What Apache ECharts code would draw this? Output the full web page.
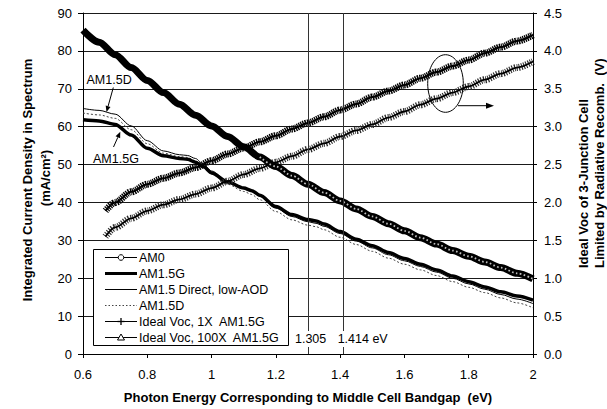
<!DOCTYPE html>
<html>
<head>
<meta charset="utf-8">
<script src="https://cdn.jsdelivr.net/npm/echarts@6/dist/echarts.min.js"></script>
<style>
  html, body { margin: 0; padding: 0; background: #fff; }
  #chart { width: 607px; height: 409px; }
</style>
</head>
<body>
<div id="chart"></div>
<script>
// Photon energy grids (eV)
const energyAM0 = [0.60,0.65,0.70,0.75,0.80,0.85,0.90,0.95,1.00,1.05,1.10,1.15,1.20,1.25,1.30,1.35,1.40,1.45,1.50,1.55,1.60,1.65,1.70,1.75,1.80,1.85,1.90,1.95,2.00];
const energySolar = [0.60,0.65,0.70,0.75,0.80,0.85,0.90,0.925,0.95,0.975,1.00,1.05,1.10,1.125,1.15,1.20,1.25,1.30,1.325,1.35,1.40,1.45,1.50,1.55,1.60,1.65,1.70,1.75,1.80,1.85,1.90,1.95,2.00];
const energyVoc = [0.67,0.70,0.75,0.80,0.85,0.90,0.95,1.00,1.05,1.10,1.15,1.20,1.25,1.30,1.35,1.40,1.45,1.50,1.55,1.60,1.65,1.70,1.75,1.80,1.85,1.90,1.95,2.00];

// Integrated current density (mA/cm2)
const am0 = [85.5,82.3,79.0,75.6,72.2,69.0,65.9,63.0,60.2,57.4,54.7,52.0,49.5,47.1,44.8,42.6,40.4,38.3,36.3,34.4,32.5,30.7,29.0,27.3,25.8,24.3,22.8,21.3,19.8];
const am15g = [61.8,61.5,60.6,57.8,54.3,52.3,51.6,51.4,50.6,49.4,47.8,45.4,43.8,43.1,41.9,38.9,36.8,35.5,35.1,34.3,32.3,30.3,28.6,26.8,25.2,23.7,22.2,20.6,19.1,17.7,16.4,15.3,14.2];
const am15DirectLowAod = [64.8,64.3,63.3,60.2,56.3,53.6,52.6,52.4,51.6,50.0,48.3,45.6,43.8,43.0,41.6,38.5,36.3,34.9,34.5,33.7,31.8,29.8,28.0,26.2,24.6,23.1,21.6,20.0,18.5,17.1,15.7,14.5,13.3];
const am15d = [63.6,63.1,62.2,59.2,55.5,53.0,52.1,51.9,51.0,49.3,47.5,44.8,42.9,42.1,40.7,37.6,35.4,34.0,33.6,32.8,30.8,28.9,27.1,25.3,23.7,22.2,20.7,19.1,17.6,16.2,14.8,13.5,12.2];

// Ideal Voc of the 3-junction cell (V)
const voc1x = [1.55,1.67,1.79,1.89,1.97,2.04,2.11,2.19,2.28,2.37,2.45,2.53,2.61,2.70,2.78,2.87,2.95,3.03,3.12,3.20,3.29,3.37,3.45,3.53,3.62,3.70,3.78,3.86];
const voc100x = [1.89,2.00,2.14,2.24,2.32,2.39,2.46,2.55,2.64,2.72,2.80,2.88,2.97,3.05,3.13,3.22,3.30,3.39,3.47,3.55,3.64,3.72,3.80,3.88,3.97,4.05,4.13,4.21];

// Middle-cell bandgaps marked with vertical lines (eV)
const markEnergies = [1.305, 1.414];

const seriesNames = ['AM0', 'AM1.5G', 'AM1.5 Direct, low-AOD', 'AM1.5D', 'Ideal Voc, 1X  AM1.5G', 'Ideal Voc, 100X  AM1.5G'];

const FONT = '"Liberation Sans", Arial, Helvetica, sans-serif';
const pairs = (xs, ys) => xs.map((x, i) => [x, ys[i]]);

const chart = echarts.init(document.getElementById('chart'), null, { renderer: 'svg' });

const tickLabel = { color: '#000', fontSize: 13, fontFamily: FONT };
const curve = { symbol: 'none', smooth: 0.3, smoothMonotone: 'x' };

chart.setOption({
  animation: false,
  backgroundColor: '#fff',
  grid: { left: 83, right: 74, top: 13, bottom: 53 },
  xAxis: {
    type: 'value', min: 0.6, max: 2, interval: 0.2,
    axisLine: { show: true, lineStyle: { color: '#000', width: 1 } },
    axisTick: { show: true, length: 4, lineStyle: { color: '#000' } },
    axisLabel: Object.assign({ margin: 14, formatter: v => String(+v.toFixed(1)) }, tickLabel),
    splitLine: { show: false },
    name: 'Photon Energy Corresponding to Middle Cell Bandgap  (eV)',
    nameLocation: 'middle', nameGap: 37,
    nameTextStyle: { color: '#000', fontSize: 13, fontWeight: 'bold', fontFamily: FONT }
  },
  yAxis: [
    {
      type: 'value', min: 0, max: 90, interval: 10, position: 'left',
      axisLine: { show: true, lineStyle: { color: '#000', width: 1 } },
      axisTick: { show: true, length: 5, lineStyle: { color: '#000' } },
      axisLabel: Object.assign({ margin: 11 }, tickLabel),
      splitLine: { show: true, lineStyle: { color: '#1a1a1a', width: 1 } }
    },
    {
      type: 'value', min: 0, max: 4.5, interval: 0.5, position: 'right',
      axisLine: { show: true, lineStyle: { color: '#000', width: 1 } },
      axisTick: { show: true, length: 4, lineStyle: { color: '#000' } },
      axisLabel: Object.assign({ margin: 11, formatter: v => v.toFixed(1) }, tickLabel),
      splitLine: { show: false }
    }
  ],
  series: [
    Object.assign({
      name: seriesNames[3], type: 'line', data: pairs(energySolar, am15d),
      lineStyle: { color: '#444', width: 1, type: [2, 2] }
    }, curve),
    Object.assign({
      name: seriesNames[2], type: 'line', data: pairs(energySolar, am15DirectLowAod),
      lineStyle: { color: '#000', width: 1 },
      markLine: {
        silent: true, symbol: ['none', 'none'], label: { show: false },
        lineStyle: { color: '#333', width: 1, type: 'solid' },
        data: markEnergies.map(e => ({ xAxis: e }))
      }
    }, curve),
    Object.assign({
      name: seriesNames[1], type: 'line', data: pairs(energySolar, am15g),
      lineStyle: { color: '#000', width: 3.5 }
    }, curve),
    // Ideal Voc, 1X: hatched band of "+" marks around a thin line
    Object.assign({
      name: seriesNames[4], type: 'line', yAxisIndex: 1, data: pairs(energyVoc, voc1x),
      lineStyle: { color: '#2a2a2a', width: 7, type: [1.1, 1.3], cap: 'butt' }
    }, curve),
    Object.assign({
      name: seriesNames[4] + ' line', type: 'line', yAxisIndex: 1, data: pairs(energyVoc, voc1x),
      lineStyle: { color: '#000', width: 1.8 }
    }, curve),
    // Ideal Voc, 100X: dense triangle band
    Object.assign({
      name: seriesNames[5], type: 'line', yAxisIndex: 1, data: pairs(energyVoc, voc100x),
      lineStyle: { color: '#000', width: 7, type: [1.3, 0.8], cap: 'butt' }
    }, curve),
    Object.assign({
      name: seriesNames[5] + ' line', type: 'line', yAxisIndex: 1, data: pairs(energyVoc, voc100x),
      lineStyle: { color: '#000', width: 2 }
    }, curve),
    // AM0: chain of open circles, merging into a solid band where they crowd
    Object.assign({
      name: seriesNames[0], type: 'line', data: pairs(energyAM0, am0),
      lineStyle: { color: '#000', width: 7 }
    }, curve),
    Object.assign({
      name: seriesNames[0] + ' rings', type: 'line',
      data: pairs(energyAM0, am0).filter(p => p[0] >= 1.15),
      lineStyle: { color: '#fff', width: 1.8, type: [1.6, 2.4], cap: 'butt', opacity: 0.75 }
    }, curve)
  ]
});

// ---- annotations, legend box and axis titles ----
function arrow(x1, y1, x2, y2, len, half) {
  len = len || 6; half = half || 2.6;
  const a = Math.atan2(y2 - y1, x2 - x1);
  const bx = x2 - len * Math.cos(a), by = y2 - len * Math.sin(a);
  const px = -Math.sin(a) * half, py = Math.cos(a) * half;
  return [
    { type: 'line', z: 100, shape: { x1: x1, y1: y1, x2: bx, y2: by }, style: { stroke: '#000', lineWidth: 1 } },
    { type: 'polygon', z: 100, shape: { points: [[x2, y2], [bx + px, by + py], [bx - px, by - py]] }, style: { fill: '#000' } }
  ];
}
function text(str, x, y, opts) {
  return Object.assign({
    type: 'text', z: 101, x: x, y: y,
    style: Object.assign({ text: str, fill: '#000', font: '12.5px ' + FONT, textAlign: 'left', textVerticalAlign: 'middle' }, (opts && opts.style) || {})
  }, opts && opts.rotation ? { rotation: opts.rotation } : {});
}

const g = [];

// legend box
const lx0 = 105, lx1 = 137, lmid = 121, ltext = 139, ly0 = 257.5, lstep = 16;
g.push({ type: 'rect', z: 99, shape: { x: 93.5, y: 249.5, width: 195, height: 96 }, style: { fill: '#fff', stroke: '#000', lineWidth: 1 } });
seriesNames.forEach((name, i) => {
  const y = ly0 + i * lstep;
  let ls = { stroke: '#000', lineWidth: 1 };
  if (i === 1) ls.lineWidth = 3;
  if (i === 3) { ls.stroke = '#444'; ls.lineDash = [1.5, 2]; }
  g.push({ type: 'line', z: 100, shape: { x1: lx0, y1: y, x2: lx1, y2: y }, style: ls });
  if (i === 0) g.push({ type: 'circle', z: 101, shape: { cx: lmid, cy: y, r: 2.8 }, style: { fill: '#fff', stroke: '#000', lineWidth: 1 } });
  if (i === 4) {
    g.push({ type: 'line', z: 101, shape: { x1: lmid - 3.5, y1: y, x2: lmid + 3.5, y2: y }, style: { stroke: '#000', lineWidth: 1.3 } });
    g.push({ type: 'line', z: 101, shape: { x1: lmid, y1: y - 3.5, x2: lmid, y2: y + 3.5 }, style: { stroke: '#000', lineWidth: 1.3 } });
  }
  if (i === 5) g.push({ type: 'polygon', z: 101, shape: { points: [[lmid, y - 3.5], [lmid - 3.5, y + 2.5], [lmid + 3.5, y + 2.5]] }, style: { fill: '#fff', stroke: '#000', lineWidth: 1 } });
  g.push(text(name, ltext, y));
});

// spectrum labels with arrows
g.push(text('AM1.5D', 86.5, 80));
g.push(...arrow(113.3, 87.5, 106.5, 112, 6, 2.5));
g.push(text('AM1.5G', 93, 159));
g.push(...arrow(113.5, 147, 120.3, 131.8, 6, 2.5));

// ellipse around the Voc curves pointing to the right axis
g.push({ type: 'ellipse', z: 100, shape: { cx: 445.5, cy: 83.5, rx: 17.8, ry: 28.8 }, style: { fill: 'none', stroke: '#000', lineWidth: 1 } });
g.push(...arrow(458, 105.7, 494, 105.7, 8, 3));

// bandgap labels on the vertical lines
const xa = chart.convertToPixel({ xAxisIndex: 0 }, markEnergies[0]);
const xb = chart.convertToPixel({ xAxisIndex: 0 }, markEnergies[1]);
g.push({ type: 'rect', z: 99, shape: { x: xa - 15, y: 331, width: (xb - 7 + 50) - (xa - 15), height: 16 }, style: { fill: '#fff' } });
g.push(text(markEnergies[0].toFixed(3), xa + 1, 339, { style: { textAlign: 'center' } }));
g.push(text(markEnergies[1].toFixed(3) + ' eV', xb - 7, 339));

// axis titles
const titleFont = 'bold 13px ' + FONT;
g.push(text('Integrated Current Density in Spectrum', 27, 180, { rotation: Math.PI / 2, style: { font: titleFont, textAlign: 'center' } }));
g.push(text('(mA/cm²)', 45, 178, { rotation: Math.PI / 2, style: { font: titleFont, textAlign: 'center' } }));
g.push(text('Ideal Voc of 3-Junction Cell', 583, 268, { rotation: Math.PI / 2, style: { font: titleFont, textAlign: 'left' } }));
g.push(text('Limited by Radiative Recomb.  (V)', 599, 268, { rotation: Math.PI / 2, style: { font: titleFont, textAlign: 'left' } }));

chart.setOption({ graphic: g });
</script>
</body>
</html>
